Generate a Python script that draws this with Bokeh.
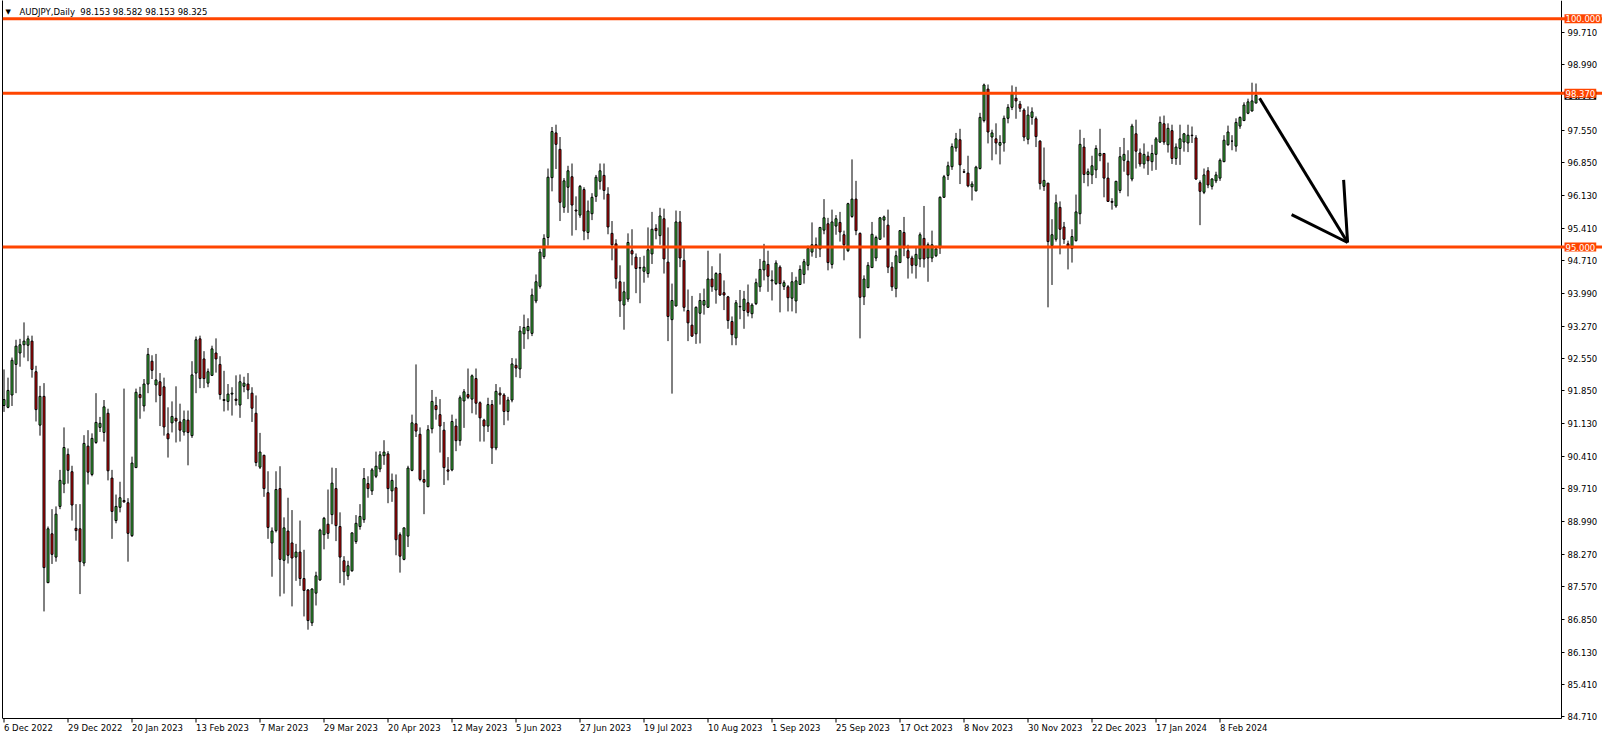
from bokeh.plotting import figure
from bokeh.models import (ColumnDataSource, Range1d, LinearAxis, FixedTicker,
                          PrintfTickFormatter, Span, Label)
from bokeh.core.properties import value
from bokeh.embed import file_html
from bokeh.resources import INLINE

# ---------------- data (AUDJPY daily) ----------------
opens = [
    91.53, 91.49, 91.76, 92.43, 92.68, 92.86, 92.85, 92.94, 92.27, 91.10,
    91.73, 87.65, 88.72, 88.21, 89.32, 89.81, 90.46, 90.08, 88.84, 88.83,
    88.08, 90.64, 90.02, 90.72, 91.05, 90.94, 91.36, 89.94, 89.01, 89.30,
    89.45, 89.40, 88.68, 90.17, 91.77, 91.52, 92.00, 92.50, 91.98, 92.05,
    91.94, 90.91, 91.15, 91.25, 91.17, 90.95, 91.21, 90.87, 92.24, 92.99,
    92.55, 92.02, 92.19, 92.68, 92.43, 91.66, 91.62, 91.78, 91.67, 91.54,
    91.95, 92.00, 91.80, 91.36, 90.18, 90.44, 89.62, 88.52, 88.79, 89.71,
    88.14, 88.78, 88.52, 88.21, 88.32, 87.74, 87.49, 86.77, 87.42, 87.71,
    88.70, 88.93, 89.14, 89.71, 88.88, 88.13, 87.80, 87.91, 88.55, 88.88,
    89.03, 89.82, 89.66, 89.98, 90.14, 90.43, 90.47, 89.66, 89.73, 88.70,
    88.16, 88.67, 90.11, 91.13, 90.90, 89.91, 89.75, 91.02, 91.53, 91.33,
    90.99, 90.12, 90.12, 91.08, 90.76, 91.63, 91.77, 91.67, 92.12, 91.59,
    91.21, 91.08, 91.55, 90.60, 91.80, 91.76, 91.40, 91.65, 92.41, 92.33,
    93.10, 93.17, 93.11, 93.82, 94.14, 94.79, 95.21, 96.52, 97.50, 97.14,
    95.87, 96.31, 96.54, 95.81, 95.70, 96.26, 95.32, 95.73, 96.11, 96.44,
    96.57, 96.16, 95.30, 95.07, 94.24, 93.73, 93.86, 94.92, 94.78, 94.55,
    94.47, 94.42, 94.85, 95.41, 95.25, 95.62, 94.67, 93.41, 93.71, 95.55,
    94.71, 93.61, 93.29, 93.10, 93.55, 93.73, 93.68, 94.30, 94.06, 94.42,
    94.00, 93.91, 93.37, 93.01, 93.69, 93.61, 93.78, 93.54, 93.76, 94.13,
    94.50, 94.62, 94.26, 94.20, 94.56, 94.14, 94.13, 93.88, 93.82, 94.18,
    94.40, 94.60, 94.89, 95.05, 94.96, 95.37, 95.51, 94.62, 95.46, 95.54,
    95.27, 94.92, 95.67, 96.05, 95.30, 93.91, 94.11, 94.55, 94.76, 95.17,
    95.59, 95.48, 94.56, 94.09, 94.66, 95.32, 94.92, 94.76, 94.60, 94.74,
    95.19, 94.76, 94.76, 94.81, 94.98, 96.09, 96.57, 96.76, 97.17, 97.35,
    96.65, 96.62, 96.32, 96.23, 96.72, 97.77, 98.46, 97.41, 97.37, 97.23,
    97.28, 97.82, 98.06, 98.26, 98.13, 98.00, 97.36, 97.84, 97.81, 97.32,
    96.33, 96.40, 95.03, 95.17, 95.87, 95.44, 95.07, 94.97, 95.14, 95.73,
    97.19, 96.59, 96.58, 96.69, 97.00, 97.05, 96.51, 96.00, 95.90, 96.24,
    96.90, 96.88, 96.49, 97.48, 97.06, 96.82, 96.99, 96.87, 97.03, 97.30,
    97.70, 97.24, 97.55, 96.94, 97.16, 97.30, 97.28, 97.45, 97.39, 96.41,
    96.20, 96.67, 96.33, 96.45, 96.51, 96.87, 97.24, 97.32, 97.21, 97.65,
    97.77, 97.93, 97.98, 98.153,
]
highs = [
    92.32, 92.14, 92.58, 92.97, 92.99, 93.35, 93.06, 93.06, 92.40, 91.96,
    92.02, 88.88, 89.26, 89.32, 90.12, 91.05, 90.59, 90.21, 89.37, 89.37,
    90.88, 90.99, 90.92, 91.80, 91.28, 91.65, 91.46, 90.12, 89.58, 89.86,
    91.90, 89.50, 90.41, 91.90, 91.94, 92.11, 92.79, 92.63, 92.66, 92.24,
    92.14, 91.49, 91.62, 91.95, 91.57, 91.42, 91.42, 92.50, 93.04, 93.06,
    92.72, 92.34, 92.84, 93.00, 92.61, 92.29, 92.00, 91.93, 92.19, 92.21,
    92.16, 92.24, 91.93, 91.75, 90.93, 90.45, 90.09, 88.86, 90.09, 90.20,
    89.08, 89.51, 89.24, 88.50, 89.01, 88.37, 87.51, 87.53, 87.89, 88.83,
    89.09, 89.69, 90.17, 90.16, 89.19, 88.23, 88.13, 88.75, 89.13, 89.37,
    90.16, 89.98, 90.16, 90.52, 90.53, 90.77, 90.53, 90.04, 90.02, 88.75,
    88.85, 90.21, 91.33, 92.43, 91.05, 90.12, 91.10, 91.87, 91.72, 91.67,
    91.17, 90.40, 91.33, 91.24, 91.75, 91.89, 92.34, 92.21, 92.34, 91.62,
    91.24, 91.70, 91.65, 92.00, 91.93, 91.80, 91.72, 92.57, 92.56, 93.27,
    93.52, 93.44, 94.09, 94.40, 94.96, 95.28, 96.72, 97.63, 97.68, 97.41,
    96.51, 96.78, 96.83, 96.11, 96.36, 96.31, 96.02, 96.18, 96.58, 96.83,
    96.83, 96.31, 95.57, 95.17, 94.60, 94.24, 95.30, 95.39, 94.86, 94.78,
    94.81, 95.43, 95.77, 95.50, 95.86, 95.84, 95.43, 94.20, 95.80, 95.79,
    95.00, 94.07, 93.93, 93.70, 93.99, 94.09, 94.92, 94.58, 94.45, 94.86,
    94.27, 93.93, 93.48, 93.84, 94.06, 94.04, 94.18, 93.77, 94.31, 94.74,
    95.07, 94.92, 94.49, 94.71, 94.60, 94.27, 94.17, 94.45, 94.35, 94.60,
    94.74, 95.03, 95.54, 95.21, 95.43, 96.05, 95.64, 95.82, 95.70, 95.77,
    95.36, 95.97, 96.92, 96.45, 95.32, 94.38, 94.67, 95.55, 95.25, 95.66,
    95.69, 95.82, 94.67, 94.92, 95.37, 95.66, 95.05, 94.81, 94.99, 95.32,
    95.90, 95.10, 95.36, 95.03, 96.11, 96.58, 96.87, 97.27, 97.50, 97.59,
    96.71, 97.00, 96.44, 96.78, 97.94, 98.58, 98.56, 97.57, 97.71, 97.45,
    97.88, 98.13, 98.54, 98.51, 98.20, 98.04, 98.08, 98.06, 97.86, 97.34,
    97.18, 96.40, 95.61, 96.15, 96.00, 95.55, 95.14, 95.39, 96.15, 97.57,
    97.39, 96.72, 97.00, 97.23, 97.59, 97.06, 96.85, 96.07, 96.45, 97.19,
    97.39, 97.12, 97.70, 97.79, 97.16, 97.27, 97.09, 97.24, 97.41, 97.86,
    97.88, 97.71, 97.68, 97.27, 97.68, 97.50, 97.68, 97.64, 97.45, 96.46,
    96.72, 96.75, 96.51, 96.65, 96.94, 97.45, 97.66, 97.45, 97.82, 97.86,
    98.17, 98.25, 98.60, 98.582,
]
lows = [
    91.39, 91.47, 91.52, 91.80, 92.38, 92.58, 92.50, 92.14, 91.18, 90.87,
    87.02, 87.64, 88.06, 88.11, 89.26, 89.61, 89.82, 89.01, 88.57, 87.40,
    88.01, 89.80, 89.98, 90.69, 90.95, 90.74, 89.89, 88.61, 88.95, 89.19,
    89.40, 88.11, 88.65, 90.16, 91.24, 91.40, 91.80, 92.11, 91.60, 91.08,
    90.87, 90.39, 90.94, 90.72, 90.74, 90.87, 90.22, 90.82, 91.80, 91.91,
    91.91, 91.93, 92.18, 92.25, 91.66, 91.40, 91.42, 91.31, 91.53, 91.26,
    91.82, 91.67, 91.17, 90.20, 90.14, 89.53, 88.61, 87.78, 88.75, 87.35,
    87.41, 88.07, 87.13, 87.69, 87.58, 86.91, 86.62, 86.70, 87.15, 87.69,
    88.38, 88.61, 88.93, 88.56, 87.64, 87.59, 87.71, 87.89, 88.50, 88.81,
    88.96, 89.51, 89.57, 89.94, 90.07, 90.23, 89.39, 89.42, 88.25, 87.87,
    88.14, 88.43, 90.09, 90.84, 89.87, 89.15, 89.75, 90.92, 91.22, 90.50,
    89.79, 89.89, 90.09, 90.53, 90.65, 91.04, 91.67, 91.36, 91.33, 90.74,
    90.74, 90.95, 90.25, 90.55, 91.55, 91.10, 91.20, 91.60, 92.15, 92.13,
    92.77, 92.98, 93.05, 93.77, 94.09, 94.74, 95.03, 96.22, 96.71, 95.57,
    95.75, 95.75, 95.25, 95.37, 95.64, 95.15, 95.17, 95.59, 95.99, 96.26,
    96.04, 95.28, 94.71, 94.09, 93.47, 93.19, 93.80, 94.60, 93.99, 93.77,
    94.22, 94.33, 94.63, 95.17, 95.05, 94.42, 92.94, 91.79, 93.70, 94.56,
    93.59, 92.94, 93.03, 92.88, 92.89, 93.52, 93.68, 94.02, 93.76, 93.93,
    93.62, 93.21, 92.85, 92.85, 93.42, 93.21, 93.48, 93.44, 93.73, 94.02,
    94.27, 94.02, 93.83, 94.17, 93.57, 94.06, 93.59, 93.59, 93.55, 94.17,
    94.20, 94.49, 94.79, 94.76, 94.78, 95.28, 94.49, 94.53, 95.27, 95.12,
    94.71, 94.89, 95.64, 95.26, 93.00, 93.73, 94.11, 94.55, 94.69, 95.17,
    95.21, 94.43, 94.04, 93.90, 94.66, 94.80, 94.31, 94.42, 94.31, 94.56,
    94.55, 94.24, 94.67, 94.78, 94.85, 96.08, 96.47, 96.69, 97.09, 96.38,
    96.62, 96.31, 96.02, 96.22, 96.70, 97.73, 97.27, 96.90, 97.03, 96.81,
    97.09, 97.71, 98.00, 97.81, 97.96, 97.32, 97.25, 97.68, 97.19, 96.26,
    96.23, 93.68, 94.17, 95.12, 94.84, 95.07, 94.51, 94.66, 95.12, 95.50,
    96.40, 96.33, 96.38, 96.51, 96.88, 96.09, 95.99, 95.82, 95.86, 96.18,
    96.65, 96.11, 96.44, 96.72, 96.76, 96.72, 96.58, 96.67, 96.69, 97.28,
    97.24, 97.07, 96.82, 96.80, 96.80, 97.09, 97.08, 97.28, 96.47, 95.48,
    96.16, 96.29, 96.26, 96.40, 96.45, 96.86, 97.22, 97.12, 97.09, 97.59,
    97.76, 97.91, 97.97, 98.153,
]
closes = [
    91.66, 91.86, 92.52, 92.83, 92.86, 92.94, 92.99, 92.32, 91.44, 91.73,
    87.98, 88.83, 88.27, 89.15, 89.89, 90.61, 90.11, 89.35, 88.79, 88.11,
    90.70, 90.07, 90.81, 91.16, 91.14, 91.50, 90.10, 89.21, 89.32, 89.51,
    89.42, 88.73, 90.27, 91.82, 91.70, 92.00, 92.65, 92.30, 92.09, 91.75,
    91.06, 90.80, 91.29, 91.19, 90.99, 91.22, 90.94, 92.20, 92.97, 92.12,
    92.12, 92.27, 92.77, 92.55, 91.77, 91.64, 91.78, 91.80, 91.64, 92.05,
    92.02, 91.87, 91.47, 90.28, 90.51, 89.71, 88.86, 88.78, 89.69, 88.16,
    88.85, 88.25, 88.19, 88.32, 87.74, 87.48, 86.82, 87.51, 87.80, 88.80,
    89.06, 88.73, 89.83, 88.90, 88.21, 87.89, 88.02, 88.74, 88.95, 89.10,
    89.93, 89.71, 90.12, 90.20, 90.45, 90.51, 89.71, 89.89, 88.59, 88.23,
    88.85, 90.16, 91.15, 90.97, 89.91, 89.85, 91.00, 91.62, 91.44, 91.08,
    90.17, 90.09, 91.18, 90.76, 91.70, 91.83, 91.71, 92.18, 91.58, 91.26,
    91.08, 91.55, 90.60, 91.84, 91.76, 91.40, 91.65, 92.44, 92.35, 93.16,
    93.24, 93.26, 93.95, 94.24, 94.89, 95.19, 96.53, 97.53, 97.25, 95.98,
    96.45, 96.67, 95.92, 95.79, 96.33, 95.35, 95.79, 96.09, 96.53, 96.67,
    96.24, 95.44, 95.05, 94.31, 93.82, 94.02, 95.10, 94.85, 94.53, 94.54,
    94.56, 94.94, 95.39, 95.36, 95.68, 94.74, 93.48, 93.83, 95.55, 94.76,
    93.68, 93.34, 93.05, 93.68, 93.83, 93.83, 94.30, 94.13, 94.42, 93.95,
    93.95, 93.39, 93.08, 93.78, 93.70, 93.86, 93.57, 93.73, 94.22, 94.51,
    94.69, 94.36, 94.28, 94.65, 94.20, 94.22, 93.89, 94.24, 94.26, 94.51,
    94.68, 94.97, 95.05, 95.00, 95.43, 95.64, 94.66, 95.55, 95.62, 95.33,
    95.05, 95.95, 96.05, 95.36, 93.90, 94.30, 94.60, 95.28, 95.21, 95.64,
    95.66, 94.56, 94.13, 94.81, 95.36, 94.98, 94.76, 94.60, 94.84, 95.27,
    94.74, 95.05, 95.05, 94.96, 96.09, 96.54, 96.78, 97.20, 97.37, 96.80,
    96.64, 96.34, 96.38, 96.75, 97.84, 98.55, 97.52, 97.50, 97.28, 97.29,
    97.82, 98.06, 98.35, 98.20, 98.04, 97.41, 97.89, 97.96, 97.42, 96.39,
    96.46, 95.12, 95.27, 95.97, 95.39, 95.17, 95.01, 95.23, 95.77, 97.25,
    96.59, 96.65, 96.78, 97.16, 97.05, 96.51, 96.00, 95.98, 96.44, 96.98,
    97.03, 96.58, 97.65, 97.10, 96.82, 97.03, 96.89, 97.05, 97.37, 97.73,
    97.30, 97.60, 96.94, 97.19, 97.37, 97.48, 97.45, 97.44, 96.49, 96.22,
    96.58, 96.36, 96.49, 96.58, 96.90, 97.34, 97.52, 97.32, 97.73, 97.84,
    98.11, 98.18, 98.20, 98.325,
]

date_labels = ["6 Dec 2022", "29 Dec 2022", "20 Jan 2023", "13 Feb 2023", "7 Mar 2023",
               "29 Mar 2023", "20 Apr 2023", "12 May 2023", "5 Jun 2023", "27 Jun 2023",
               "19 Jul 2023", "10 Aug 2023", "1 Sep 2023", "25 Sep 2023", "17 Oct 2023",
               "8 Nov 2023", "30 Nov 2023", "22 Dec 2023", "17 Jan 2024", "8 Feb 2024"]
date_label_bars = [0, 16, 32, 48, 64, 80, 96, 112, 128, 144,
                   160, 176, 192, 208, 224, 240, 256, 272, 288, 304]

price_ticks = [99.71, 98.99, 97.55, 96.85, 96.13, 95.41, 94.71, 93.99, 93.27, 92.55,
               91.85, 91.13, 90.41, 89.71, 88.99, 88.27, 87.57, 86.85, 86.13, 85.41, 84.71]

levels = [100.0, 98.37, 95.0]
last_price = 98.325
title_text = "AUDJPY,Daily\u00a0 98.153 98.582 98.153 98.325"

# hand-drawn arrow (bar index, price)
arrow_xs = [[313.9, 335.9], [321.9, 335.9], [334.9, 335.9]]
arrow_ys = [[98.26, 95.10], [95.71, 95.10], [96.47, 95.10]]

# ---------------- layout ----------------
W, H = 1602, 733
BL = 2
FW, FH = W - BL, H            # whole frame (axes are placed inside with fixed_location)
PX_PER_BAR = 4.0
DATA_W = 1559                 # px from frame left to price-axis line
DATA_H = 718                  # px from frame top to time-axis line
X0 = -0.375
X1 = X0 + DATA_W / PX_PER_BAR
XE = X0 + FW / PX_PER_BAR
Y1, Y0 = 100.40, 84.675
KY = (Y1 - Y0) / DATA_H
YB = Y1 - FH * KY
FONT = "DejaVu Sans"
ORANGE = "#ff4500"
BULL = "#40c840"
BEAR = "#e00a0a"


def px2x(px):
    return X0 + px / PX_PER_BAR


def py2y(py):
    return Y1 - py * KY


p = figure(width=W, height=H, x_range=Range1d(X0, XE), y_range=Range1d(YB, Y1),
           output_backend="svg", toolbar_location=None, y_axis_location="right",
           min_border_left=BL, min_border_right=0, min_border_bottom=0, min_border_top=0)
p.background_fill_color = "white"
p.border_fill_color = "white"
p.outline_line_color = None
p.xgrid.visible = False
p.ygrid.visible = False

# time axis line (tick marks and left-aligned labels are drawn below, MT4 style)
xa = p.xaxis[0]
xa.fixed_location = Y0
xa.bounds = (X0, X1)
xa.ticker = FixedTicker(ticks=[], minor_ticks=[])
xa.major_tick_out = 0
xa.major_tick_in = 0
xa.axis_line_color = "black"
xa.major_tick_line_color = None
xa.minor_tick_line_color = None

# price axis
ya = p.yaxis[0]
ya.fixed_location = X1
ya.bounds = (Y0, Y1)
ya.ticker = FixedTicker(ticks=price_ticks, minor_ticks=[])
ya.formatter = PrintfTickFormatter(format="%.3f")
ya.major_label_text_font = FONT
ya.major_label_text_font_size = "8.5px"
ya.major_label_text_color = "black"
ya.major_tick_out = 3
ya.major_tick_in = 0
ya.major_label_standoff = 3
ya.axis_line_color = "black"
ya.major_tick_line_color = "black"
ya.minor_tick_line_color = None

# left border of the chart window
la = LinearAxis(ticker=FixedTicker(ticks=[], minor_ticks=[]), major_tick_out=0, major_tick_in=0,
                major_label_standoff=0, axis_line_color="black",
                major_tick_line_color=None, minor_tick_line_color=None, bounds=(Y0, Y1))
p.add_layout(la, "left")

# date ticks and labels
nd = len(date_label_bars)
p.segment(x0=date_label_bars, y0=[Y0] * nd, x1=date_label_bars, y1=[py2y(DATA_H + 4)] * nd,
          line_color="black", line_width=1)
p.text(x=date_label_bars, y=[py2y(DATA_H + 4)] * nd, text=date_labels,
       text_font=value(FONT), text_font_size="8.5px", text_color="black",
       text_align="left", text_baseline="top")

n = len(closes)
src = ColumnDataSource(dict(
    x=list(range(n)),
    o=opens, h=highs, l=lows, c=closes,
    top=[max(a, b) for a, b in zip(opens, closes)],
    bot=[min(a, b) for a, b in zip(opens, closes)],
    col=[BULL if c >= o else BEAR for o, c in zip(opens, closes)],
))
p.segment(x0="x", y0="h", x1="x", y1="l", source=src, line_color="black", line_width=1)
p.vbar(x="x", width=0.5, top="top", bottom="bot", source=src,
       fill_color="col", line_color="black", line_width=1)

for lv in levels:
    p.add_layout(Span(location=lv, dimension="width", line_color=ORANGE, line_width=3))

p.multi_line(xs=arrow_xs, ys=arrow_ys, line_color="black", line_width=3)

# current price box (black) under the 98.370 level box
p.add_layout(Label(x=X1, y=last_price, x_offset=3, text=f"{last_price:.3f}",
                   text_color="white", background_fill_color="black", padding=1,
                   text_font=FONT, text_font_size="8.5px",
                   text_baseline="middle", text_align="left"))
for lv in levels:
    p.add_layout(Label(x=X1, y=lv, x_offset=3, text=f"{lv:.3f}",
                       text_color="white", background_fill_color=ORANGE, padding=1,
                       text_font=FONT, text_font_size="8.5px",
                       text_baseline="middle", text_align="left"))

p.add_layout(Label(x=px2x(3), y=py2y(11), text="\u25bc", text_color="black",
                   text_font=FONT, text_font_size="7px", text_baseline="middle", text_align="left"))
p.add_layout(Label(x=px2x(17), y=py2y(11), text=title_text, text_color="black",
                   text_font=FONT, text_font_size="8.5px", text_baseline="middle", text_align="left"))

open("out.html", "w").write(file_html(p, INLINE))
